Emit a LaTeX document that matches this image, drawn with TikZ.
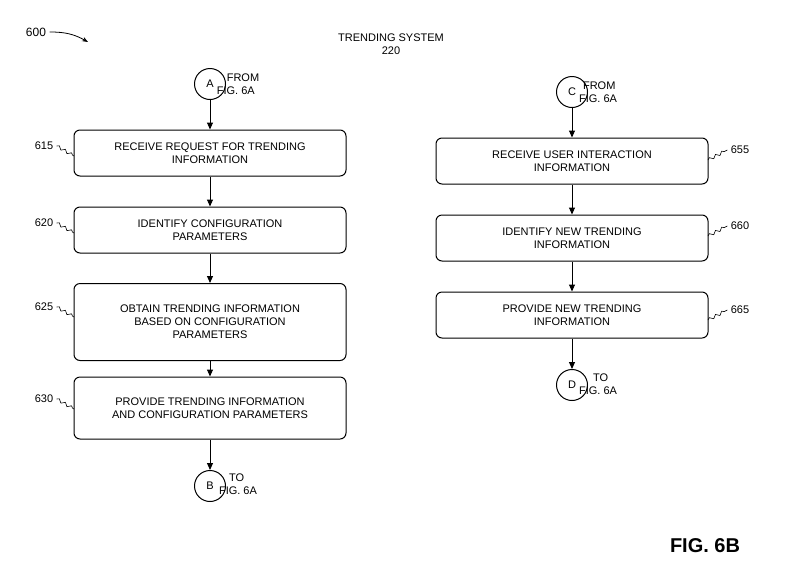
\documentclass[tikz,border=0pt]{standalone}
\usepackage{fontspec}
\setmainfont{Liberation Sans}
\usetikzlibrary{arrows.meta,decorations.pathmorphing}
\begin{document}
\begin{tikzpicture}[x=1pt,y=-1pt,
    stepbox/.style={draw, line width=1pt, rounded corners=6pt, minimum width=272pt, align=center, font=\fontsize{11}{13}\selectfont, inner sep=2pt},
    conn/.style={draw, circle, line width=1pt, minimum size=31pt, inner sep=0pt, font=\fontsize{11}{13}\selectfont},
    note/.style={font=\fontsize{11}{13}\selectfont, align=left},
    flow/.style={line width=1pt, -{Triangle[length=7pt,width=6pt]}},
    squig/.style={line width=0.6pt, decorate, decoration={snake, amplitude=1.5pt, segment length=7pt}}]
  \useasboundingbox (0,0) rectangle (792,574);
  % header
  \node[note] (ref) at (36,32) {\fontsize{12}{14}\selectfont 600};
  \coordinate (refend) at (88,42);
  \draw[line width=0.8pt, -{Stealth[length=6pt]}] (ref.east) to[bend left=15] (refend);
  \node[note, align=center] (title) at (391,44) {TRENDING SYSTEM\\220};
  \node[font=\bfseries\fontsize{20}{24}\selectfont] (fig) at (705,546) {FIG. 6B};

  % left column
  \node[conn] (a) at (210,84) {A};
  \node[note] (afrom) at (238,84) {\hspace{10pt}FROM\\FIG. 6A};
  \node[stepbox, minimum height=46pt] (s615) at (210,153) {RECEIVE REQUEST FOR TRENDING\\INFORMATION};
  \node[stepbox, minimum height=46pt] (s620) at (210,230) {IDENTIFY CONFIGURATION\\PARAMETERS};
  \node[stepbox, minimum height=77pt] (s625) at (210,322) {OBTAIN TRENDING INFORMATION\\BASED ON CONFIGURATION\\PARAMETERS};
  \node[stepbox, minimum height=62pt] (s630) at (210,408) {PROVIDE TRENDING INFORMATION\\AND CONFIGURATION PARAMETERS};
  \node[conn] (b) at (210,486) {B};
  \node[note] (bto) at (238,484) {\hspace{10pt}TO\\FIG. 6A};
  \draw[flow] (a) -- (s615);
  \draw[flow] (s615) -- (s620);
  \draw[flow] (s620) -- (s625);
  \draw[flow] (s625) -- (s630);
  \draw[flow] (s630) -- (b);

  % right column
  \node[conn] (c) at (572,92) {C};
  \node[note] (cfrom) at (598,92) {\hspace{4pt}FROM\\FIG. 6A};
  \node[stepbox, minimum height=46pt] (s655) at (572,161) {RECEIVE USER INTERACTION\\INFORMATION};
  \node[stepbox, minimum height=46pt] (s660) at (572,238) {IDENTIFY NEW TRENDING\\INFORMATION};
  \node[stepbox, minimum height=46pt] (s665) at (572,315) {PROVIDE NEW TRENDING\\INFORMATION};
  \node[conn] (d) at (572,385) {D};
  \node[note] (dto) at (598,384) {\hspace{14pt}TO\\FIG. 6A};
  \draw[flow] (c) -- (s655);
  \draw[flow] (s655) -- (s660);
  \draw[flow] (s660) -- (s665);
  \draw[flow] (s665) -- (d);

  % reference numerals
  \foreach \n/\y in {615/146,620/223,625/307,630/399} {
    \node[note] (l\n) at (44,\y) {\n};
    \coordinate (e\n) at (74,\y+10);
    \draw[squig] (l\n.east) -- (e\n);
  }
  \foreach \n/\y in {655/150,660/226,665/310} {
    \node[note] (l\n) at (740,\y) {\n};
    \coordinate (e\n) at (708,\y+10);
    \draw[squig] (e\n) -- (l\n.west);
  }
\end{tikzpicture}
\end{document}
